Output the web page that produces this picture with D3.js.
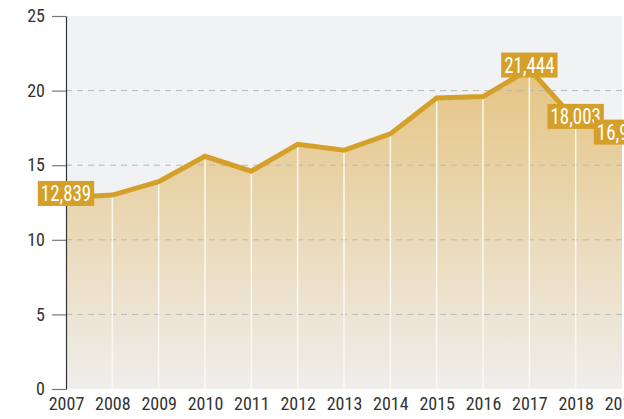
<!DOCTYPE html>
<html>
<head>
<meta charset="utf-8">
<script src="https://cdn.jsdelivr.net/npm/d3@7"></script>
<style>
  body { margin: 0; background: #fff; overflow: hidden; }
  svg { display: block; }
  text { font-family: "Liberation Sans Narrow", "Roboto Condensed", "DejaVu Sans Condensed", sans-serif; }
</style>
</head>
<body>
<div id="chart"></div>
<script>
// data (thousands)
const years = [2007, 2008, 2009, 2010, 2011, 2012, 2013, 2014, 2015, 2016, 2017, 2018, 2019];
const values = [12.839, 13.0, 13.9, 15.6, 14.6, 16.4, 16.0, 17.1, 19.5, 19.6, 21.444, 18.003, 16.95];
const labelled = [2007, 2017, 2018, 2019];
const yTicks = [0, 5, 10, 15, 20, 25];

const width = 624, height = 419;
const margin = { top: 16, right: 2, bottom: 30, left: 66 };

const svg = d3.select("#chart").append("svg")
  .attr("width", width)
  .attr("height", height);

const x = d3.scaleLinear()
  .domain([2007, 2019])
  .range([margin.left, width - margin.right]);

const y = d3.scaleLinear()
  .domain([0, 25])
  .range([height - margin.bottom, margin.top]);

const data = years.map((yr, i) => ({ year: yr, value: values[i] }));

// gradient for the area
const defs = svg.append("defs");
const grad = defs.append("linearGradient")
  .attr("id", "areaGrad")
  .attr("gradientUnits", "userSpaceOnUse")
  .attr("x1", 0).attr("x2", 0)
  .attr("y1", y(22)).attr("y2", y(0));
grad.append("stop").attr("offset", "0%").attr("stop-color", "#e4c37f");
grad.append("stop").attr("offset", "100%").attr("stop-color", "#efeeec");

defs.append("clipPath").attr("id", "plotClip")
  .append("rect")
  .attr("x", margin.left).attr("y", 0)
  .attr("width", width - margin.right - margin.left)
  .attr("height", y(0));

// plot background
svg.append("rect")
  .attr("x", margin.left)
  .attr("y", y(25))
  .attr("width", x(2019) - margin.left)
  .attr("height", y(0) - y(25))
  .attr("fill", "#f1f2f4");

// area
const area = d3.area()
  .x(d => x(d.year))
  .y0(y(0))
  .y1(d => y(d.value));

svg.append("path")
  .datum(data)
  .attr("d", area)
  .attr("fill", "url(#areaGrad)");

// dashed grid
svg.selectAll(".grid")
  .data(yTicks.filter(t => t > 0 && t < 25))
  .enter()
  .append("line")
  .attr("class", "grid")
  .attr("x1", margin.left)
  .attr("x2", x(2019))
  .attr("y1", d => y(d))
  .attr("y2", d => y(d))
  .attr("stroke", "#b8b8b8")
  .attr("stroke-width", 1)
  .attr("stroke-dasharray", "6,5");

// white verticals under the line
svg.selectAll(".vline")
  .data(data.filter(d => d.year > 2007 && d.year < 2019))
  .enter()
  .append("line")
  .attr("class", "vline")
  .attr("x1", d => x(d.year))
  .attr("x2", d => x(d.year))
  .attr("y1", y(0))
  .attr("y2", d => y(d.value))
  .attr("stroke", "#fbf8f0")
  .attr("stroke-width", 1.5);

// line
const line = d3.line()
  .x(d => x(d.year))
  .y(d => y(d.value));

svg.append("path")
  .datum(data)
  .attr("d", line)
  .attr("fill", "none")
  .attr("stroke", "#d4a02a")
  .attr("stroke-width", 5)
  .attr("stroke-linejoin", "miter")
  .attr("clip-path", "url(#plotClip)");

// y axis
const yAxis = svg.append("g")
  .attr("transform", "translate(" + margin.left + ",0)")
  .call(d3.axisLeft(y).tickValues(yTicks).tickSize(14).tickSizeOuter(0).tickPadding(7));
yAxis.select(".domain").attr("stroke", "#333").attr("stroke-width", 1.2);
yAxis.selectAll(".tick line").attr("stroke", "#777").attr("stroke-width", 1.2);
yAxis.selectAll(".tick text")
  .attr("font-size", 18)
  .attr("fill", "#333")
  .style("font-family", "\"Liberation Sans Narrow\", \"Roboto Condensed\", sans-serif");

// x axis labels
const xAxis = svg.append("g")
  .attr("transform", "translate(0," + y(0) + ")")
  .call(d3.axisBottom(x).tickValues(years).tickFormat(d3.format("d")).tickSize(0).tickPadding(8));
xAxis.select(".domain").remove();
xAxis.selectAll(".tick text")
  .attr("font-size", 18)
  .attr("fill", "#333")
  .style("font-family", "\"Liberation Sans Narrow\", \"Roboto Condensed\", sans-serif");

// value labels
const fmt = d3.format(",");
const squeeze = 0.86;
const lab = svg.selectAll(".vlabel")
  .data(data.filter(d => labelled.includes(d.year)))
  .enter()
  .append("g")
  .attr("class", "vlabel")
  .attr("transform", d => "translate(" + x(d.year) + "," + (y(d.value) - 4) + ")");

lab.append("text")
  .attr("text-anchor", "middle")
  .attr("dy", "0.36em")
  .attr("font-size", 22)
  .attr("fill", "#fff")
  .attr("transform", "scale(" + squeeze + ",1)")
  .text(d => fmt(Math.round(d.value * 1000)))
  .each(function () {
    const b = this.getBBox();
    d3.select(this.parentNode).insert("rect", "text")
      .attr("x", b.x * squeeze - 3)
      .attr("y", -12.5)
      .attr("width", b.width * squeeze + 6)
      .attr("height", 25)
      .attr("fill", "#d4a02a");
  });
</script>
</body>
</html>
